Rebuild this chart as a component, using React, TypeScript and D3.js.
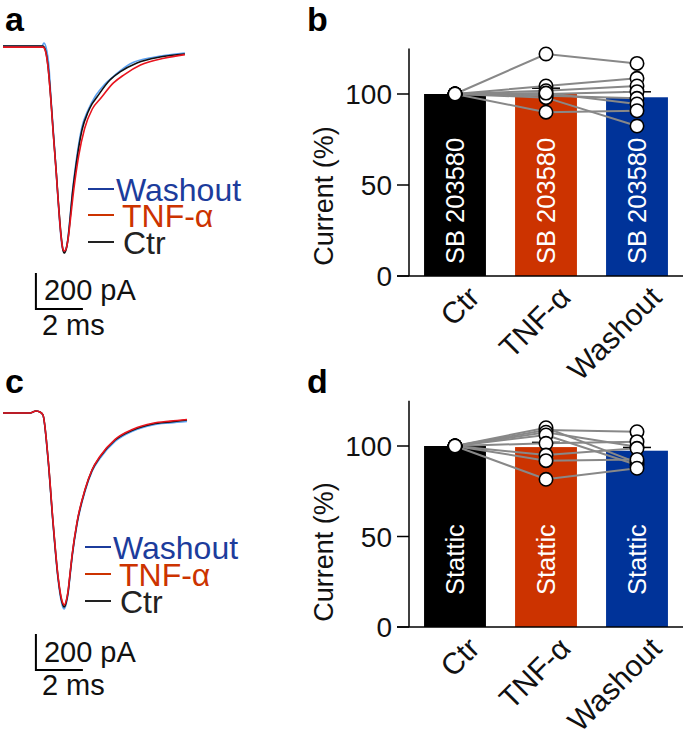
import React from "react";
import * as d3 from "d3";

const FONT = "'Liberation Sans', Arial, Helvetica, sans-serif";

// ---------- categories ----------
const groups = ["Ctr", "TNF-α", "Washout"];
const yTicks = [0, 50, 100];

// ---------- panel a traces: [time ms, current pA] ----------
const aCtr: [number, number][] = [
  [0, 0], [1.7, 0], [1.79, -17], [1.91, -106], [2.04, -300], [2.13, -467], [2.26, -689],
  [2.34, -839], [2.47, -1050], [2.55, -1133], [2.6, -1150], [2.68, -1133], [2.77, -1067],
  [2.85, -967], [2.94, -839], [3.11, -661], [3.36, -467], [3.62, -367], [3.79, -322],
  [4.0, -283], [4.55, -189], [4.98, -144], [5.7, -94], [6.68, -61], [7.74, -44],
];
const aTnf: [number, number][] = [
  [0, -6], [1.7, -6], [1.79, -22], [1.91, -111], [2.04, -306], [2.13, -472], [2.26, -694],
  [2.34, -844], [2.47, -1056], [2.55, -1128], [2.6, -1139], [2.68, -1128], [2.77, -1072],
  [2.87, -962], [3.02, -790], [3.22, -610], [3.47, -460], [3.8, -350], [4.15, -292],
  [4.7, -205], [5.15, -160], [5.85, -106], [6.85, -68], [7.74, -48],
];
const aWash: [number, number][] = [
  [0, 0], [1.66, 0], [1.74, 17], [1.83, -6], [1.96, -122], [2.04, -289], [2.17, -522],
  [2.3, -772], [2.43, -1011], [2.51, -1111], [2.6, -1144], [2.68, -1128], [2.77, -1061],
  [2.85, -956], [2.94, -828], [3.11, -644], [3.36, -450], [3.62, -356], [3.91, -283],
  [4.34, -211], [4.77, -161], [5.4, -100], [6.47, -61], [7.74, -39],
];

// ---------- panel c traces ----------
const cCtr: [number, number][] = [
  [0, 0], [1.15, 0], [1.4, 11], [1.57, 6], [1.7, -11], [1.91, -244], [2.13, -611],
  [2.34, -911], [2.47, -1028], [2.55, -1067], [2.6, -1078], [2.68, -1056], [2.77, -994],
  [2.85, -900], [2.94, -794], [3.15, -611], [3.49, -428], [3.79, -317], [4.13, -244],
  [4.77, -150], [5.53, -94], [6.38, -61], [7.11, -50], [7.83, -39],
];
const cTnf: [number, number][] = [
  [0, 0], [1.15, 0], [1.4, 11], [1.57, 6], [1.7, -11], [1.91, -240], [2.13, -605],
  [2.34, -905], [2.47, -1020], [2.55, -1058], [2.6, -1067], [2.68, -1048], [2.77, -988],
  [2.85, -895], [2.94, -790], [3.15, -606], [3.49, -425], [3.79, -315], [4.13, -240],
  [4.77, -146], [5.53, -90], [6.38, -57], [7.11, -45], [7.83, -36],
];
const cWash: [number, number][] = [
  [0, 0], [1.15, 0], [1.4, 11], [1.57, 6], [1.7, -12], [1.91, -250], [2.13, -618],
  [2.34, -920], [2.47, -1040], [2.55, -1080], [2.6, -1089], [2.68, -1066], [2.77, -1004],
  [2.85, -910], [2.94, -804], [3.15, -620], [3.49, -436], [3.79, -325], [4.13, -252],
  [4.77, -158], [5.53, -100], [6.38, -66], [7.11, -55], [7.83, -47],
];

// ---------- panel b values (%) ----------
const bMeans = [100, 100.4, 98.2];
const bSems = [0, 2.8, 3.0];
const bCtrCells = [100, 100, 100, 100, 100, 100, 100, 100];
const bTnfCells = [122, 104.4, 101.8, 100, 99, 98, 100.5, 90];
const bWashCells = [116.8, 108.6, 104.4, 101.3, 97.6, 82.4, 94.5, 90.8];

// ---------- panel d values (%) ----------
const dMeans = [100, 99.4, 97.4];
const dSems = [0, 2.6, 1.8];
const dCtrCells = [100, 100, 100, 100, 100, 100, 100, 100];
const dTnfCells = [108.8, 110.1, 107.6, 106.1, 101.5, 95.0, 91.9, 81.6];
const dWashCells = [107.9, 90.8, 99.6, 89.5, 102.4, 98.7, 92.6, 87.7];

const BAR_COLORS = ["#000000", "#cc3300", "#003399"];
const TRACE_COLORS = { ctr: "#111111", tnf: "#e8141e", wash: "#5aa0f0" };
const LEG_COLORS = { ctr: "#222222", tnf: "#cc3300", wash: "#1c3c9c" };

function TracePanel({ ctr, tnf, wash, base, legendY, legendX, sbTop, sbTextY }: any) {
  const x = d3.scaleLinear().domain([0, 8]).range([3, 191]);
  const y = d3.scaleLinear().domain([0, -1000]).range([base, base + 180]);
  const line = d3.line<[number, number]>().x((d) => x(d[0])).y((d) => y(d[1])).curve(d3.curveMonotoneX);
  const barV = y(-200) - y(0);
  const barH = x(2) - x(0);
  const sbx = x(1.4);
  const legend = [
    { t: "Washout", c: LEG_COLORS.wash, dx: 0 },
    { t: "TNF-α", c: LEG_COLORS.tnf, dx: 6 },
    { t: "Ctr", c: LEG_COLORS.ctr, dx: 7 },
  ];
  return (
    <g>
      <path d={line(wash) || ""} fill="none" stroke={TRACE_COLORS.wash} strokeWidth={1.6} />
      <path d={line(ctr) || ""} fill="none" stroke={TRACE_COLORS.ctr} strokeWidth={1.6} />
      <path d={line(tnf) || ""} fill="none" stroke={TRACE_COLORS.tnf} strokeWidth={1.6} />
      {legend.map((l, i) => (
        <g key={l.t}>
          <line x1={legendX} x2={legendX + 26} y1={legendY[i]} y2={legendY[i]} stroke={l.c} strokeWidth={2} />
          <text x={legendX + 28 + l.dx} y={legendY[i]} dy="0.36em" fill={l.c} fontSize={32} fontFamily={FONT}>
            {l.t}
          </text>
        </g>
      ))}
      <polyline
        points={`${sbx},${sbTop} ${sbx},${sbTop + barV} ${sbx + barH},${sbTop + barV}`}
        fill="none"
        stroke="#000"
        strokeWidth={2}
      />
      <text x={sbx + 8} y={sbTextY[0]} fontSize={29} fontFamily={FONT} fill="#111">200 pA</text>
      <text x={sbx + 6} y={sbTextY[1]} fontSize={29} fontFamily={FONT} fill="#111">2 ms</text>
    </g>
  );
}

function BarPanel({ y0, y100, means, sems, cells, inLabel, inLabelY, ylabelY }: any) {
  const xb = d3.scaleBand<string>().domain(groups).range([409.5, 682.5]).paddingInner(0.32).paddingOuter(0.16);
  const y = d3.scaleLinear().domain([0, 100]).range([y0, y100]);
  const cx = (g: string) => (xb(g) as number) + xb.bandwidth() / 2;
  const n = cells[0].length;
  const idx = d3.range(n);
  return (
    <g fontFamily={FONT}>
      {groups.map((g, i) => (
        <rect key={g} x={xb(g)} y={y(means[i])} width={xb.bandwidth()} height={y(0) - y(means[i])} fill={BAR_COLORS[i]} />
      ))}
      {groups.map((g, i) => (
        <text
          key={"l" + g}
          transform={`translate(${cx(g)},${inLabelY}) rotate(-90)`}
          dy="0.36em"
          fill="#fff"
          fontSize={25.5}
        >
          {inLabel}
        </text>
      ))}
      {/* axes */}
      <line x1={409} x2={409} y1={y(125)} y2={y(0)} stroke="#000" strokeWidth={1.5} />
      <line x1={397} x2={683} y1={y(0)} y2={y(0)} stroke="#000" strokeWidth={1.5} />
      {yTicks.map((t) => (
        <g key={t}>
          <line x1={397} x2={409} y1={y(t)} y2={y(t)} stroke="#000" strokeWidth={1.5} />
          <text x={392} y={y(t)} dy="0.36em" textAnchor="end" fontSize={28} fill="#111">
            {t}
          </text>
        </g>
      ))}
      <text transform={`translate(333,${ylabelY}) rotate(-90)`} textAnchor="middle" fontSize={27} fill="#111">
        Current (%)
      </text>
      {groups.map((g) => (
        <text key={"x" + g} transform={`translate(${cx(g) + 11},${y(0) + 8}) rotate(-45)`} textAnchor="end" dy="0.72em" fontSize={30} fill="#111">
          {g}
        </text>
      ))}
      {/* error bars */}
      {groups.map((g, i) =>
        sems[i] > 0 ? (
          <g key={"e" + g}>
            <line x1={cx(g)} x2={cx(g)} y1={y(means[i])} y2={y(means[i] + sems[i])} stroke="#000" strokeWidth={1.5} />
            <line x1={cx(g) - 14} x2={cx(g) + 14} y1={y(means[i] + sems[i])} y2={y(means[i] + sems[i])} stroke="#000" strokeWidth={1.5} />
          </g>
        ) : null
      )}
      {/* paired lines */}
      {idx.map((k) => (
        <polyline
          key={"p" + k}
          points={groups.map((g, i) => `${cx(g)},${y(cells[i][k])}`).join(" ")}
          fill="none"
          stroke="#888"
          strokeWidth={2}
        />
      ))}
      {groups.map((g, i) =>
        idx.map((k) => (
          <circle key={g + k} cx={cx(g)} cy={y(cells[i][k])} r={6.7} fill="#fff" stroke="#000" strokeWidth={1.6} />
        ))
      )}
    </g>
  );
}

export default function App() {
  return (
    <svg width={685} height={729} style={{ position: "absolute", left: 0, top: 0, background: "#fff" }}>
      <rect width={685} height={729} fill="#fff" />
      <g fontFamily={FONT} fontWeight="bold" fontSize={34} fill="#000">
        <text x={5} y={31}>a</text>
        <text x={307} y={31}>b</text>
        <text x={5} y={393}>c</text>
        <text x={307} y={393}>d</text>
      </g>
      <TracePanel ctr={aCtr} tnf={aTnf} wash={aWash} base={46} legendX={88} legendY={[189, 215, 242]} sbTop={273} sbTextY={[300, 335]} />
      <TracePanel ctr={cCtr} tnf={cTnf} wash={cWash} base={413} legendX={85} legendY={[547, 574, 601]} sbTop={634} sbTextY={[662, 695]} />
      <BarPanel
        y0={276}
        y100={94}
        means={bMeans}
        sems={bSems}
        cells={[bCtrCells, bTnfCells, bWashCells]}
        inLabel="SB 203580"
        inLabelY={264}
        ylabelY={196}
      />
      <BarPanel
        y0={627}
        y100={446}
        means={dMeans}
        sems={dSems}
        cells={[dCtrCells, dTnfCells, dWashCells]}
        inLabel="Stattic"
        inLabelY={595}
        ylabelY={552}
      />
    </svg>
  );
}
